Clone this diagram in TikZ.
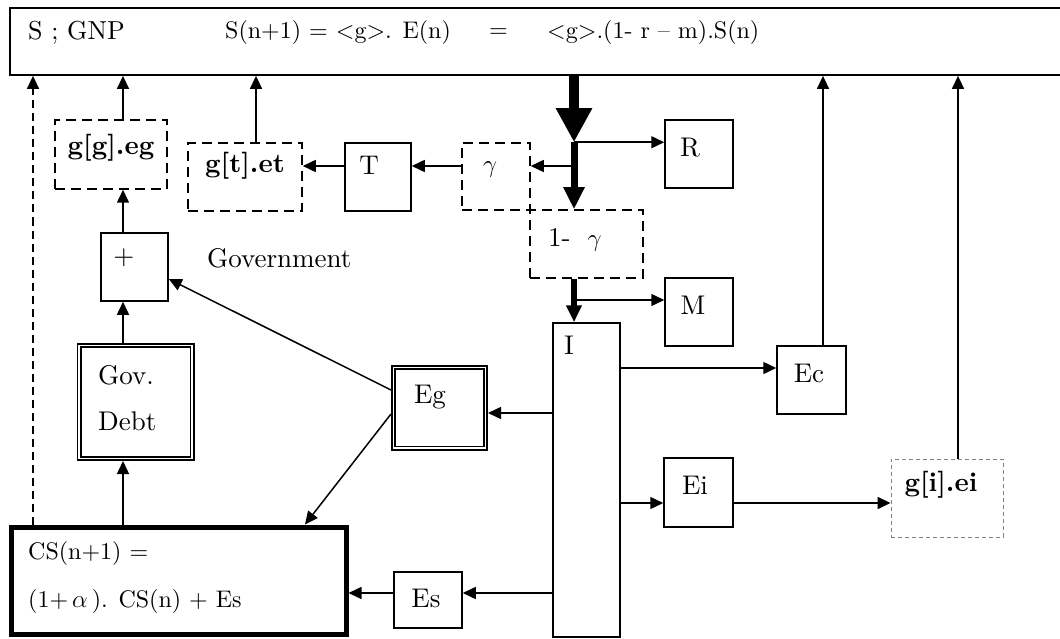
\documentclass[tikz,border=0pt]{standalone}
\usepackage{fontspec}
\setmainfont{lmroman10-regular.otf}[BoldFont=lmroman10-bold.otf]
\usetikzlibrary{arrows.meta,math}

\newcommand{\taille}{\fontsize{27}{31}\selectfont}
\newcommand{\petite}{\fontsize{24}{28}\selectfont}

\begin{document}
\begin{tikzpicture}[x=1pt,y=-1pt]

	\useasboundingbox (0,0) rectangle (1060,639);

	\tikzmath{
		\xs = 574;   % axe du flux principal
		\xg = 123;   % axe gouvernement
	}

	\tikzset{
		boite/.style={draw=black, line width=1.5pt, inner sep=0pt},
		tirets/.style={boite, dash pattern=on 10pt off 6pt},
		dbl/.style={draw=black, line width=1.6pt, double=white, double distance=1.8pt,
				inner sep=0pt, outer sep=2.5pt},
		fl/.style={-{Triangle[length=13pt,width=12pt]}, line width=1.5pt},
		txt/.style={font=\taille, inner sep=0pt},
		eq/.style={font=\petite, inner sep=0pt, anchor=west}
	}

	% Boite du haut : S ; GNP
	\node[boite, line width=1.8pt, minimum width=1070, minimum height=67] (SB) at (545,41.5) {};

	% Boites simples
	\foreach \nom/\x/\y/\w/\h in {
	T/378/177/66/68,
	R/699/154/68/68,
	M/699/312/68/68,
	I/586.5/480/67/314,
	plus/134.5/267/67/68,
	Ec/811.5/380/69/68,
	Ei/698.5/492.5/69/69,
	Es/428/600/68/56
	}{
	\node[boite, minimum width=\w, minimum height=\h] (\nom) at (\x,\y) {};
	}

	% Boites en tirets
	\foreach \nom/\x/\y/\w/\h in {
	ggeg/111/154.5/112/69,
	gtet/245/177/114/68,
	gam/496/176.5/68/67,
	ung/586.5/244/113/68
	}{
	\node[tirets, minimum width=\w, minimum height=\h] (\nom) at (\x,\y) {};
	}

	\node[draw=gray, line width=0.9pt, dash pattern=on 4pt off 3pt,
		minimum width=112, minimum height=78] (giei) at (947,498) {};

	% Boites doubles et boite epaisse
	\node[dbl, minimum width=113, minimum height=113] (gov) at (135.5,402) {};
	\node[dbl, minimum width=92, minimum height=80.5] (Eg) at (439.5,407.75) {};
	\node[draw=black, line width=5pt, inner sep=0pt,
		minimum width=335, minimum height=107] (CS) at (178.5,580.5) {};

	% Textes
	\node[eq, font=\fontsize{26}{30}\selectfont] (tSG) at (28,33) {S ; GNP};
	\node[eq] (tEq)  at (225,33) {S(n+1) = <g>. E(n)};
	\node[eq] (tEg)  at (489,33) {=};
	\node[eq] (tEq2) at (547,33) {<g>.(1- r – m).S(n)};

	\node[txt] (lggeg) at (111,148) {\textbf{g[g].eg}};
	\node[txt] (lgtet) at (245,166) {\textbf{g[t].et}};
	\node[txt] (lT)    at (369,165) {T};
	\node[txt] (lgam)  at (490,170) {$\gamma$};
	\node[txt] (lR)    at (690,148) {R};
	\node[txt, anchor=west] (lung) at (548,240) {1-\hspace{17pt}$\gamma$};
	\node[txt] (lM)    at (693,305) {M};
	\node[txt] (lI)    at (569,345) {I};
	\node[txt] (lplus) at (124,258) {+};
	\node[txt, anchor=west] (lgouv) at (207,258) {Government};
	\node[txt, anchor=west] (lgov1) at (98,375)  {Gov.};
	\node[txt, anchor=west] (lgov2) at (98,421)  {Debt};
	\node[txt] (lEg)   at (430,397) {Eg};
	\node[txt] (lEc)   at (809,373) {Ec};
	\node[txt] (lEi)   at (695,485) {Ei};
	\node[txt] (lgiei) at (941,485) {\textbf{g[i].ei}};
	\node[txt] (lEs)   at (426,598) {Es};
	\node[eq] (lCS1) at (28,553) {CS(n+1) =};
	\node[eq] (lCS2) at (28,601) {(1+\,$\alpha$\,). CS(n) + Es};

	% Axes et lignes de reference
	\coordinate (axD) at (33,0);
	\coordinate (axG) at (\xg,0);
	\coordinate (axT) at (256,0);
	\coordinate (axS) at (\xs,0);
	\coordinate (axC) at (823,0);
	\coordinate (axI) at (958,0);
	\coordinate (ligH)  at (0,166);
	\coordinate (ligM)  at (0,300);
	\coordinate (ligC)  at (0,368);
	\coordinate (ligEg) at (0,413);
	\coordinate (ligEi) at (0,503);
	\coordinate (ligEs) at (0,593);
	\coordinate (egA) at (0,390);
	\coordinate (egB) at (0,414);
	\coordinate (plA) at (0,279);
	\coordinate (csA) at (305,0);

	% Flux principal (fleches epaisses)
	\draw[line width=10pt, -{Triangle[length=34pt,width=34pt]}] (SB.south -| axS) -- (axS |- gam.north);
	\draw[line width=7pt, -{Triangle[length=22pt,width=20pt]}] (axS |- gam.north) -- (ung.north -| axS);
	\draw[line width=6pt, -{Triangle[length=17pt,width=15pt]}] (ung.south -| axS) -- (I.north -| axS);

	\draw[fl] (axS |- gam.north) -- (R.west |- gam.north);
	\draw[fl] (axS |- ligH) -- (gam.east |- ligH);
	\draw[fl] (axS |- ligM) -- (M.west |- ligM);

	% Branche taxe
	\draw[fl] (gam.west |- ligH) -- (T.east |- ligH);
	\draw[fl] (T.west |- ligH) -- (gtet.east |- ligH);
	\draw[fl] (gtet.north -| axT) -- (SB.south -| axT);

	% Gouvernement
	\draw[fl] (ggeg.north -| axG) -- (SB.south -| axG);
	\draw[fl] (plus.north -| axG) -- (ggeg.south -| axG);
	\draw[fl] (gov.north -| axG) -- (plus.south -| axG);
	\draw[fl] (CS.north -| axG) -- (gov.south -| axG);
	\draw[fl, dash pattern=on 8pt off 5pt] (CS.north -| axD) -- (SB.south -| axD);

	\draw[fl] (Eg.west |- egA) -- (plus.east |- plA);
	\draw[fl] (Eg.west |- egB) -- (CS.north -| csA);

	% Sorties de I
	\draw[fl] (I.west |- ligEg) -- (Eg.east |- ligEg);
	\draw[fl] (I.west |- ligEs) -- (Es.east |- ligEs);
	\draw[fl] (Es.west |- ligEs) -- (CS.east |- ligEs);
	\draw[fl] (I.east |- ligC) -- (Ec.west |- ligC);
	\draw[fl] (I.east |- ligEi) -- (Ei.west |- ligEi);
	\draw[fl] (Ei.east |- ligEi) -- (giei.west |- ligEi);

	% Retours vers S
	\draw[fl] (Ec.north -| axC) -- (SB.south -| axC);
	\draw[fl] (giei.north -| axI) -- (SB.south -| axI);

\end{tikzpicture}
\end{document}
